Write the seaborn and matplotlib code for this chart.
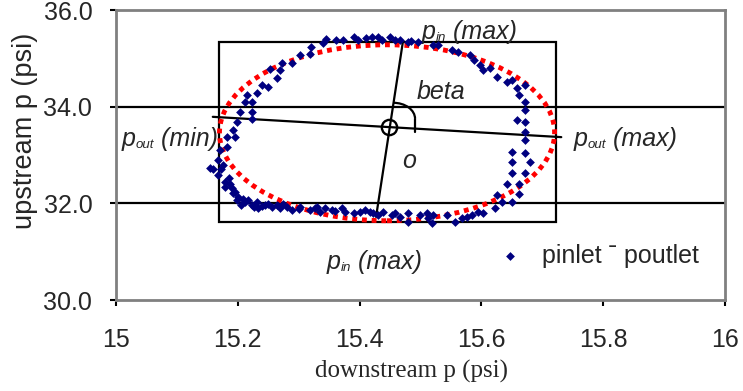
import matplotlib
matplotlib.use('Agg')
import matplotlib.pyplot as plt
from matplotlib.patches import Ellipse, Rectangle, Arc
import seaborn as sns

# measured loop: downstream vs upstream pressure (psi)
downstream = [15.362, 15.340, 15.321, 15.319, 15.302, 15.289, 15.272, 15.269, 15.253, 15.264,
              15.250, 15.239, 15.231, 15.215, 15.223, 15.212, 15.204, 15.223, 15.223, 15.198,
              15.193, 15.195, 15.182, 15.182, 15.171, 15.168, 15.160, 15.154, 15.173, 15.168,
              15.179, 15.179, 15.190, 15.193, 15.201, 15.198, 15.209, 15.206, 15.217, 15.223,
              15.231, 15.234, 15.245, 15.256, 15.264, 15.269, 15.280, 15.289, 15.302, 15.319,
              15.327, 15.335, 15.343, 15.354, 15.371, 15.376, 15.390, 15.401, 15.409, 15.417,
              15.422, 15.431, 15.439, 15.453, 15.458, 15.466, 15.480, 15.480, 15.499, 15.510,
              15.513, 15.518, 15.521, 15.543, 15.557, 15.568, 15.576, 15.584, 15.595, 15.603,
              15.622, 15.633, 15.650, 15.625, 15.661, 15.642, 15.661, 15.650, 15.672, 15.650,
              15.680, 15.650, 15.672, 15.672, 15.672, 15.672, 15.658, 15.672, 15.672, 15.661,
              15.658, 15.672, 15.650, 15.642, 15.625, 15.614, 15.603, 15.598, 15.587, 15.581,
              15.562, 15.551, 15.529, 15.521, 15.496, 15.480, 15.466, 15.458, 15.450, 15.436,
              15.430, 15.420, 15.398, 15.390, 15.373, 15.212, 15.240, 15.275, 15.300, 15.330,
              15.360, 15.185, 15.188, 15.175, 15.195, 15.227, 15.250, 15.345, 15.410, 15.485]
upstream = [35.38, 35.31, 35.23, 35.10, 35.07, 34.90, 34.90, 34.76, 34.77, 34.59,
            34.41, 34.45, 34.28, 34.24, 34.10, 34.10, 33.90, 33.90, 33.74, 33.69,
            33.52, 33.37, 33.38, 33.17, 33.10, 32.90, 32.72, 32.73, 32.72, 32.59,
            32.45, 32.34, 32.31, 32.21, 32.14, 32.07, 32.10, 31.97, 32.07, 31.97,
            32.03, 31.90, 31.97, 31.93, 31.97, 31.90, 31.93, 31.86, 31.93, 31.86,
            31.90, 31.83, 31.90, 31.86, 31.90, 31.83, 31.79, 31.83, 31.86, 31.83,
            31.79, 31.76, 31.83, 31.76, 31.79, 31.72, 31.79, 31.62, 31.76, 31.79,
            31.69, 31.59, 31.76, 31.76, 31.62, 31.69, 31.72, 31.76, 31.83, 31.79,
            31.90, 32.03, 32.03, 32.17, 32.19, 32.40, 32.41, 32.62, 32.63, 32.85,
            32.85, 33.07, 33.05, 33.31, 33.48, 33.69, 33.72, 33.93, 34.10, 34.24,
            34.38, 34.45, 34.55, 34.52, 34.62, 34.79, 34.76, 34.86, 34.97, 35.07,
            35.14, 35.17, 35.28, 35.28, 35.34, 35.34, 35.38, 35.38, 35.45, 35.38,
            35.45, 35.45, 35.38, 35.45, 35.38, 32.02, 31.95, 31.98, 31.88, 31.93,
            31.85, 32.52, 32.40, 32.80, 32.24, 31.92, 31.99, 35.40, 35.42, 35.36]
series_label = 'pinlet ˉ poutlet'

# fitted ellipse (red dotted)
ellipse_center = (15.445, 33.46)
ellipse_width = 0.55
ellipse_height = 3.64

# bounding box and principal axes
box_x = [15.169, 15.722]
box_y = [31.61, 35.34]
pout_x = [15.159, 15.731]
pout_y = [33.79, 33.37]
pin_x = [15.471, 15.427]
pin_y = [35.34, 31.72]
centre = (15.448, 33.58)
beta_arc_center = (15.455, 33.75)
beta_arc_size = (0.072, 0.662)
beta_tail_x = [15.491, 15.491]
beta_tail_y = [33.75, 33.48]

grid_y = [32, 34]
xticks = [15, 15.2, 15.4, 15.6, 15.8, 16]
yticks = [30, 32, 34, 36]

sns.set_style('white')
plt.rcParams['font.family'] = ['Liberation Sans', 'DejaVu Sans']

fig = plt.figure(figsize=(7.43, 3.91), dpi=100)
ax = fig.add_axes([0.156, 0.2327, 0.82, 0.7417])

lw = 1.6
for g in grid_y:
    ax.axhline(g, color='black', lw=lw, zorder=1)

ax.add_patch(Rectangle((box_x[0], box_y[0]), box_x[1] - box_x[0], box_y[1] - box_y[0],
                       fill=False, ec='black', lw=lw, zorder=1))
ax.plot(pout_x, pout_y, color='black', lw=lw, zorder=1)
ax.plot(pin_x, pin_y, color='black', lw=lw, zorder=1)
ax.plot([centre[0]], [centre[1]], marker='o', ms=11, mfc='none', mec='black', mew=1.7, zorder=2)
ax.add_patch(Arc(beta_arc_center, beta_arc_size[0], beta_arc_size[1], theta1=0, theta2=90,
                 color='black', lw=lw, zorder=1))
ax.plot(beta_tail_x, beta_tail_y, color='black', lw=lw, zorder=1)

ax.add_patch(Ellipse(ellipse_center, ellipse_width, ellipse_height, fill=False,
                     ec='red', lw=3.5, linestyle=(0, (1, 1)), zorder=3))

sns.scatterplot(x=downstream, y=upstream, marker='D', color='#000080', s=20,
                linewidth=0, ax=ax, label=series_label, zorder=4)


def sub_label(x, y, main, sub, rest):
    t = ax.text(x, y, main, fontsize=18, style='italic', ha='left', va='baseline')
    t = ax.annotate(sub, xy=(1, 0), xycoords=t, fontsize=9.5, style='italic', va='bottom')
    ax.annotate(rest, xy=(1, 0), xycoords=t, fontsize=18, style='italic', va='bottom')


sub_label(15.502, 35.39, 'p', 'in', ' (max)')
sub_label(15.346, 30.64, 'p', 'in', ' (max)')
sub_label(15.009, 33.19, 'p', 'out', ' (min)')
sub_label(15.752, 33.19, 'p', 'out', ' (max)')
ax.text(15.493, 34.16, 'beta', fontsize=18, style='italic', va='baseline')
ax.text(15.470, 32.73, 'o', fontsize=18, style='italic', va='baseline')

ax.legend(loc='center left', bbox_to_anchor=(0.626, 0.152), frameon=False, fontsize=18,
          handlelength=1.0, handletextpad=0.8, borderaxespad=0, borderpad=0, markerscale=1.0)

ax.set_xlim(15, 16)
ax.set_ylim(30, 36)
ax.set_xticks(xticks)
ax.set_yticks(yticks)
ax.set_xticklabels([f'{v:g}' for v in xticks])
ax.set_yticklabels([f'{v:.1f}' for v in yticks])
ax.tick_params(axis='both', direction='out', length=4, width=1.5, color='black', labelsize=18,
               left=True, bottom=True)
ax.tick_params(axis='x', pad=16)
ax.tick_params(axis='y', pad=13)
for s in ax.spines.values():
    s.set_color('#808080')
    s.set_linewidth(2)

ax.set_xlabel('downstream p (psi)', family='Liberation Serif', fontsize=18)
ax.set_ylabel('upstream p (psi)', fontsize=19.5)
ax.xaxis.set_label_coords(0.485, -0.207)
ax.yaxis.set_label_coords(-0.128, 0.583)

fig.savefig('out.png', dpi=100)
